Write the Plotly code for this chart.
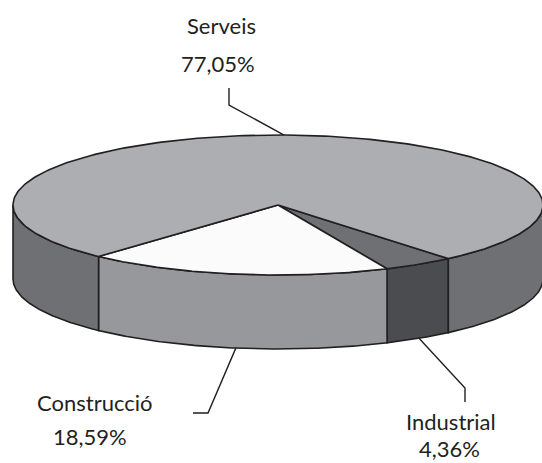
import numpy as np
import plotly.graph_objects as go

# ---- data ----
categories = ["Industrial", "Construcció", "Serveis"]
values = [4.36, 18.59, 77.05]
value_labels = ["4,36%", "18,59%", "77,05%"]

# ---- style ----
top_colors = ["#6f7074", "#fbfbfb", "#adaeb1"]
side_colors = ["#4b4c4f", "#97989b", "#6f7074"]
edge = "#231f20"
FONT = "Lato"

W, H = 542, 463
cx, cy, a, b, depth = 278, 205, 265, 70, 74
start_deg = 50.0

fig = go.Figure()

def arc(t0, t1, n=120):
    t = np.radians(np.linspace(t0, t1, n))
    return cx + a * np.cos(t), cy + b * np.sin(t)

total = sum(values)
bounds = []
acc = start_deg
for v in values:
    span = v / total * 360.0
    bounds.append((acc, acc + span))
    acc += span

# side faces (front half visible: sin(t) > 0)
for (t0, t1), col in zip(bounds, side_colors):
    for lo, hi in [(0, 180), (360, 540)]:
        s0, s1 = max(t0, lo), min(t1, hi)
        if s1 <= s0:
            continue
        x, y = arc(s0, s1)
        xs = np.concatenate([x, x[::-1], x[:1]])
        ys = np.concatenate([y, y[::-1] + depth, y[:1]])
        fig.add_trace(go.Scatter(x=xs, y=ys, mode="lines", fill="toself",
                                 fillcolor=col, line=dict(color=edge, width=1.6),
                                 hoverinfo="skip", showlegend=False))

# top faces
for (t0, t1), col in zip(bounds, top_colors):
    x, y = arc(t0, t1, 300)
    xs = np.concatenate([[cx], x, [cx]])
    ys = np.concatenate([[cy], y, [cy]])
    fig.add_trace(go.Scatter(x=xs, y=ys, mode="lines", fill="toself",
                             fillcolor=col, line=dict(color=edge, width=1.6),
                             hoverinfo="skip", showlegend=False))

# labels with leader lines
label_layout = {
    "Serveis": dict(face="top", elbow=(229, 105), end=(229, 88),
                    name_pos=(221, 25), pct_pos=(218, 63)),
    "Construcció": dict(face="bottom", elbow=(208, 413), end=(193, 413),
                        name_pos=(94, 402), pct_pos=(90, 436)),
    "Industrial": dict(face="bottom", elbow=(465, 388), end=(465, 402),
                       name_pos=(451, 421), pct_pos=(449, 448)),
}
for (t0, t1), name, pct in zip(bounds, categories, value_labels):
    L = label_layout[name]
    tm = np.radians((t0 + t1) / 2)
    ax_ = cx + a * np.cos(tm)
    ay_ = cy + b * np.sin(tm) + (depth if L["face"] == "bottom" else 0)
    fig.add_trace(go.Scatter(x=[ax_, L["elbow"][0], L["end"][0]],
                             y=[ay_, L["elbow"][1], L["end"][1]],
                             mode="lines", line=dict(color=edge, width=1.4),
                             hoverinfo="skip", showlegend=False))
    for txt, pos in [(name, L["name_pos"]), (pct, L["pct_pos"])]:
        fig.add_annotation(x=pos[0], y=pos[1], text=txt, showarrow=False,
                           xanchor="center", yanchor="middle",
                           font=dict(family=FONT, size=22, color=edge))

fig.update_layout(
    width=W, height=H, margin=dict(l=0, r=0, t=0, b=0),
    paper_bgcolor="white", plot_bgcolor="white",
    xaxis=dict(range=[0, W], visible=False, fixedrange=True),
    yaxis=dict(range=[H, 0], visible=False, fixedrange=True),
    showlegend=False,
)
fig.write_html("out.html", config={"displayModeBar": False, "staticPlot": True},
               post_script="document.body.style.margin='0';document.body.style.overflow='hidden';")
